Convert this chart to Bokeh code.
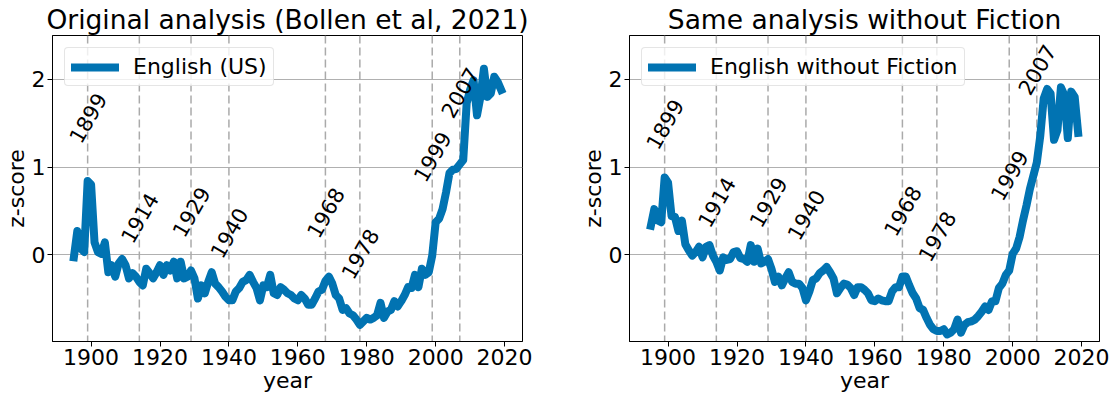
from bokeh.plotting import figure
from bokeh.layouts import row
from bokeh.models import Range1d, FixedTicker, Span
from bokeh.embed import file_html
from bokeh.resources import INLINE
from bokeh.core.properties import value

years = list(range(1895, 2020))

english_us = [
    -0.03, 0.27, 0.07, 0.03, 0.84, 0.80, 0.14, 0.03, 0.01, 0.14,
    -0.20, -0.12, -0.25, -0.10, -0.05, -0.12, -0.27, -0.21, -0.25, -0.31,
    -0.35, -0.16, -0.21, -0.27, -0.20, -0.12, -0.23, -0.12, -0.18, -0.08,
    -0.27, -0.08, -0.27, -0.25, -0.18, -0.27, -0.50, -0.35, -0.44, -0.31,
    -0.20, -0.33, -0.37, -0.42, -0.48, -0.52, -0.52, -0.42, -0.38, -0.31,
    -0.29, -0.23, -0.31, -0.38, -0.52, -0.35, -0.37, -0.23, -0.44, -0.46,
    -0.37, -0.40, -0.44, -0.46, -0.50, -0.52, -0.46, -0.50, -0.57, -0.57,
    -0.50, -0.42, -0.40, -0.30, -0.25, -0.33, -0.46, -0.50, -0.63, -0.61,
    -0.67, -0.69, -0.74, -0.80, -0.76, -0.72, -0.74, -0.72, -0.69, -0.55,
    -0.72, -0.65, -0.63, -0.53, -0.59, -0.53, -0.46, -0.37, -0.38, -0.23,
    -0.37, -0.16, -0.23, -0.20, -0.01, 0.37, 0.41, 0.52, 0.71, 0.93,
    0.97, 0.98, 1.03, 1.08, 1.73, 1.88, 1.99, 1.59, 1.80, 2.12,
    1.80, 1.84, 2.03, 1.97, 1.88,
]

english_no_fiction = [
    0.33, 0.52, 0.39, 0.37, 0.88, 0.82, 0.44, 0.43, 0.27, 0.39,
    0.12, 0.05, -0.01, 0.03, 0.09, -0.03, 0.09, 0.11, -0.01, -0.08,
    -0.18, -0.03, -0.06, -0.05, 0.03, 0.04, -0.04, -0.05, -0.08, 0.11,
    -0.08, 0.07, -0.10, -0.08, -0.05, -0.16, -0.31, -0.25, -0.35, -0.27,
    -0.20, -0.31, -0.33, -0.33, -0.38, -0.52, -0.42, -0.29, -0.27, -0.21,
    -0.18, -0.14, -0.20, -0.27, -0.44, -0.38, -0.33, -0.34, -0.38, -0.46,
    -0.37, -0.37, -0.40, -0.44, -0.52, -0.53, -0.50, -0.52, -0.53, -0.53,
    -0.42, -0.37, -0.37, -0.25, -0.25, -0.35, -0.44, -0.50, -0.61, -0.63,
    -0.72, -0.80, -0.85, -0.87, -0.87, -0.85, -0.91, -0.89, -0.85, -0.74,
    -0.89, -0.80, -0.77, -0.76, -0.74, -0.70, -0.65, -0.59, -0.63, -0.53,
    -0.53, -0.38, -0.33, -0.23, -0.18, 0.01, 0.07, 0.20, 0.39, 0.56,
    0.75, 0.90, 1.05, 1.35, 1.78, 1.89, 1.84, 1.31, 1.42, 1.91,
    1.82, 1.33, 1.86, 1.80, 1.39,
]

event_years = [1899, 1914, 1929, 1940, 1968, 1978, 1999, 2007]
event_labels = ["1899", "1914", "1929", "1940", "1968", "1978", "1999", "2007"]
label_y_us = [1.56, 0.42, 0.49, 0.25, 0.48, 0.01, 1.12, 1.85]
label_y_nf = [1.49, 0.60, 0.60, 0.455, 0.50, 0.21, 0.905, 2.11]

x_ticks = [1900, 1920, 1940, 1960, 1980, 2000, 2020]
y_ticks = [0, 1, 2]

titles = ["Original analysis (Bollen et al, 2021)", "Same analysis without Fiction"]
legend_names = ["English (US)", "English without Fiction"]

FONT = "DejaVu Sans"
BLUE = "#0173B2"


def make_panel(title, series, label_y, legend_name, border_right):
    p = figure(frame_width=470, frame_height=306,
               x_range=Range1d(1888.8, 2025.2), y_range=Range1d(-0.99, 2.5),
               output_backend="svg", toolbar_location=None,
               min_border_left=0, min_border_right=border_right,
               min_border_top=0, min_border_bottom=0)
    p.background_fill_color = "white"
    p.border_fill_color = "white"
    p.outline_line_color = "black"
    p.outline_line_width = 1
    p.outline_line_alpha = 1

    p.title.text = title
    p.title.text_font = FONT
    p.title.text_font_size = "26.5px"
    p.title.text_font_style = "normal"
    p.title.text_color = "black"
    p.title.align = "center"
    p.title.standoff = 2

    for ax in (p.xaxis[0], p.yaxis[0]):
        ax.major_label_text_font = FONT
        ax.major_label_text_font_size = "22px"
        ax.major_label_text_color = "black"
        ax.axis_label_text_font = FONT
        ax.axis_label_text_font_size = "22px"
        ax.axis_label_text_font_style = "normal"
        ax.axis_label_text_color = "black"
        ax.axis_line_color = "black"
        ax.major_tick_line_color = "black"
        ax.major_tick_in = 0
        ax.major_tick_out = 5
        ax.minor_tick_line_color = None
        ax.axis_label_standoff = 0
        ax.major_label_standoff = 2

    p.xaxis.axis_label = "year"
    p.yaxis.axis_label = "z-score"
    p.xaxis.ticker = FixedTicker(ticks=x_ticks)
    p.yaxis.ticker = FixedTicker(ticks=y_ticks)

    p.xgrid.visible = False
    p.ygrid.grid_line_color = "#b0b0b0"
    p.ygrid.grid_line_width = 1

    for yr in event_years:
        p.add_layout(Span(location=yr, dimension="height", line_color="#aaaaaa",
                          line_width=1.5, line_dash="8 4", level="underlay"))

    p.line(years, series, line_color=BLUE, line_width=8, line_join="round",
           line_cap="square", legend_label=legend_name)

    p.text(x=event_years, y=label_y, text=event_labels, angle=60, angle_units="deg",
           text_align="center", text_baseline="middle", text_font_size="21px",
           text_font=value(FONT), text_color="black")

    lg = p.legend[0]
    lg.location = "top_left"
    lg.margin = 12
    lg.padding = 6
    lg.glyph_width = 48
    lg.label_standoff = 14
    lg.label_text_font = FONT
    lg.label_text_font_size = "22px"
    lg.label_text_color = "black"
    lg.border_line_color = "#cccccc"
    lg.border_line_width = 1
    lg.background_fill_color = "white"
    lg.background_fill_alpha = 0.8
    if "border_radius" in lg.properties():
        lg.border_radius = 4
    return p


p1 = make_panel(titles[0], english_us, label_y_us, legend_names[0], 55)
p2 = make_panel(titles[1], english_no_fiction, label_y_nf, legend_names[1], 14)

layout = row(p1, p2)
open("out.html", "w").write(file_html(layout, INLINE))
